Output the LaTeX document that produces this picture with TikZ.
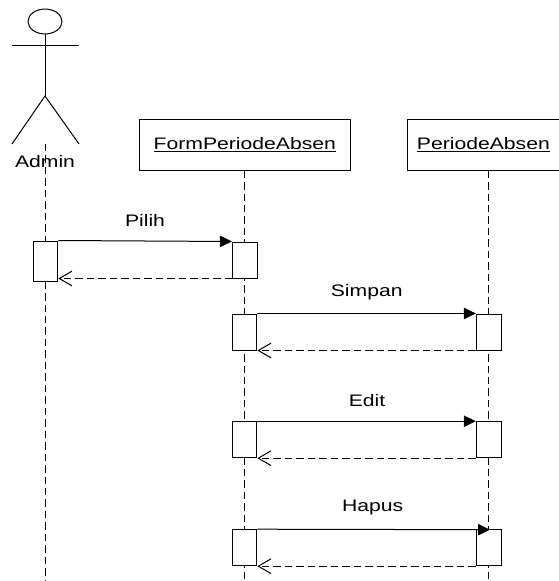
\documentclass[tikz,border=0pt]{standalone}
\usepackage{fontspec}
\setmainfont{Liberation Sans}
\usetikzlibrary{arrows.meta,shapes.geometric}
\newcommand{\wide}[1]{\scalebox{1.27}[1]{#1}}
\begin{document}
\begin{tikzpicture}[x=0.75pt,y=-0.75pt,line width=0.75pt,
    object/.style={draw,fill=white,inner sep=0pt,minimum width=#1,minimum height=37.9pt,font=\fontsize{12.5}{15}\selectfont},
    activation/.style={draw,fill=white,inner sep=0pt,minimum width=18.5pt,minimum height=#1},
    lifeline/.style={dash pattern=on 5.6pt off 3pt},
    call/.style={-{Triangle[length=9pt,width=8.5pt]}},
    reply/.style={dash pattern=on 5.6pt off 3pt,-{Straight Barb[length=9.5pt,width=11pt]}},
    label/.style={font=\fontsize{12.5}{15}\selectfont}]
    \useasboundingbox (0,0) rectangle (559,581);

    % lifelines
    \coordinate (endA) at (45,581);
    \coordinate (endF) at (244.5,581);
    \coordinate (endP) at (488.7,581);
    \coordinate (footA) at (45,144);
    \draw[lifeline] (footA) -- (endA);

    \node[object=157.9pt] (form) at (244.8,144.8) {\underline{\wide{FormPeriodeAbsen}}};
    \node[object=113.5pt] (periode) at (483.4,144.8) {\underline{\wide{PeriodeAbsen}}};
    \draw[lifeline] (form.south -| endF) -- (endF);
    \draw[lifeline] (periode.south -| endP) -- (endP);

    % actor
    \node[draw,ellipse,inner sep=0pt,minimum width=25.5pt,minimum height=18.7pt] (head) at (45,21.5) {};
    \coordinate (armL) at (12,46);
    \coordinate (armR) at (79,46);
    \coordinate (hip) at (45,96);
    \coordinate (footL) at (12,144);
    \coordinate (footR) at (79,144);
    \draw (head.south) -- (hip);
    \draw (armL) -- (armR);
    \draw (footL) -- (hip) -- (footR);
    \node[label] (admin) at (45,161.5) {\wide{Admin}};

    % activations
    \node[activation=30pt] (a1) at (45.5,261) {};
    \node[activation=27pt] (f1) at (244.8,260) {};
    \node[activation=27pt] (f2) at (244.5,332) {};
    \node[activation=27pt] (p2) at (488.7,332) {};
    \node[activation=27pt] (f3) at (244.5,439.7) {};
    \node[activation=27pt] (p3) at (488.7,439.7) {};
    \node[activation=27pt] (f4) at (244.5,547.7) {};
    \node[activation=27pt] (p4) at (488.7,547.7) {};

    % messages
    \coordinate (hapusEnd) at (490,529.7);
    \draw[call] (a1.north east) -- (f1.north west);
    \draw[reply] (f1.south west) -- (f1.south west -| a1.east);
    \draw[call] (f2.north east) -- (p2.north west);
    \draw[reply] (p2.south west) -- (f2.south east);
    \draw[call] (f3.north east) -- (p3.north west);
    \draw[reply] (p3.south west) -- (f3.south east);
    \draw[call] (f4.north east) -- (hapusEnd);
    \draw[reply] (p4.south west) -- (f4.south east);

    \node[label] (pilih) at (145,220.5) {\wide{Pilih}};
    \node[label] (simpan) at (366.7,292.5) {\wide{Simpan}};
    \node[label] (edit) at (367,401) {\wide{Edit}};
    \node[label] (hapus) at (372.7,507.5) {\wide{Hapus}};
\end{tikzpicture}
\end{document}
